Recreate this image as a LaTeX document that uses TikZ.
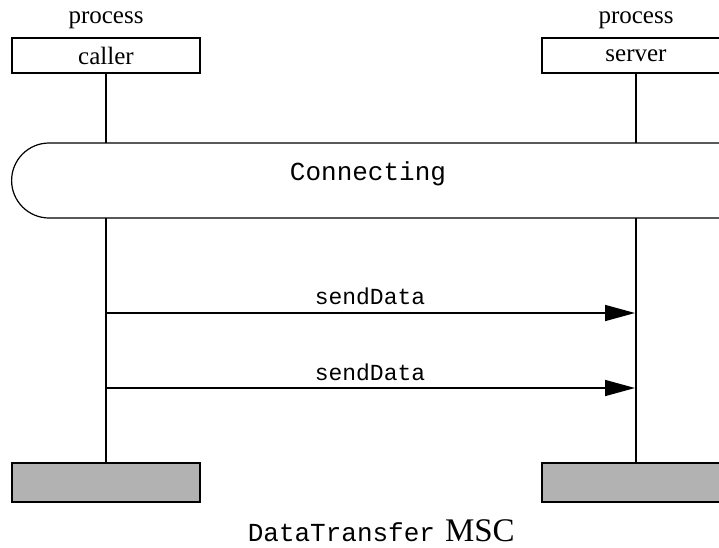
\documentclass[tikz,border=0pt]{standalone}
\usepackage{fontspec}
\setmainfont{Liberation Serif}
\setmonofont{Liberation Mono}
\usetikzlibrary{arrows.meta}
\begin{document}
\begin{tikzpicture}[x=1pt,y=-1pt,
  line width=1.6pt,
  headbox/.style={draw, minimum width=188pt, minimum height=35pt, inner sep=0pt, font=\fontsize{25}{28}\selectfont},
  endbox/.style={draw, fill=black!30, minimum width=188pt, minimum height=39pt, inner sep=0pt},
  lifeline/.style={line width=1.6pt},
  msg/.style={line width=1.6pt, -{Triangle[length=30pt,width=16pt]}},
  monolabel/.style={font=\ttfamily\fontsize{23}{26}\selectfont, inner sep=0pt},
  kindlabel/.style={font=\fontsize{25}{28}\selectfont, inner sep=0pt}]
\useasboundingbox (0,0) rectangle (719,547);
\begin{scope}
\clip (0,0) rectangle (719,547);
% heads
\node[headbox] (callerbox) at (106,55.5) {caller};
\node[headbox] (serverbox) at (636,55.5) {server};
\node[kindlabel] (callerkind) at (106,20) {process};
\node[kindlabel] (serverkind) at (636,20) {process};
% condition
\node[draw, rounded corners=37.5pt, minimum width=745pt, minimum height=75pt, inner sep=0pt, line width=1.2pt, fill=white, anchor=west] (cond) at (11,180.5) {};
\node[font=\ttfamily\fontsize{26}{29}\selectfont, inner sep=0pt] (condtext) at (368,174) {Connecting};
% end boxes
\node[endbox] (callerend) at (106,482.5) {};
\node[endbox] (serverend) at (636,482.5) {};
% lifelines
\coordinate (cA) at (106,143);
\coordinate (cB) at (106,218);
\coordinate (sA) at (636,143);
\coordinate (sB) at (636,218);
\draw[lifeline] (callerbox.south) -- (cA);
\draw[lifeline] (serverbox.south) -- (sA);
\draw[lifeline] (cB) -- (callerend.north);
\draw[lifeline] (sB) -- (serverend.north);
% messages
\coordinate (m1s) at (106,313);
\coordinate (m1e) at (635,313);
\coordinate (m2s) at (106,388);
\coordinate (m2e) at (635,388);
\draw[msg] (m1s) -- (m1e);
\draw[msg] (m2s) -- (m2e);
\node[monolabel] (l1) at (370,296) {sendData};
\node[monolabel] (l2) at (370,372) {sendData};
% title
\node[inner sep=0pt, anchor=base west] (title) at (247,541.5) {\ttfamily\fontsize{26}{28}\selectfont DataTransfer\hspace{10pt}\rmfamily\fontsize{33}{36}\selectfont MSC};
\end{scope}
\end{tikzpicture}
\end{document}
